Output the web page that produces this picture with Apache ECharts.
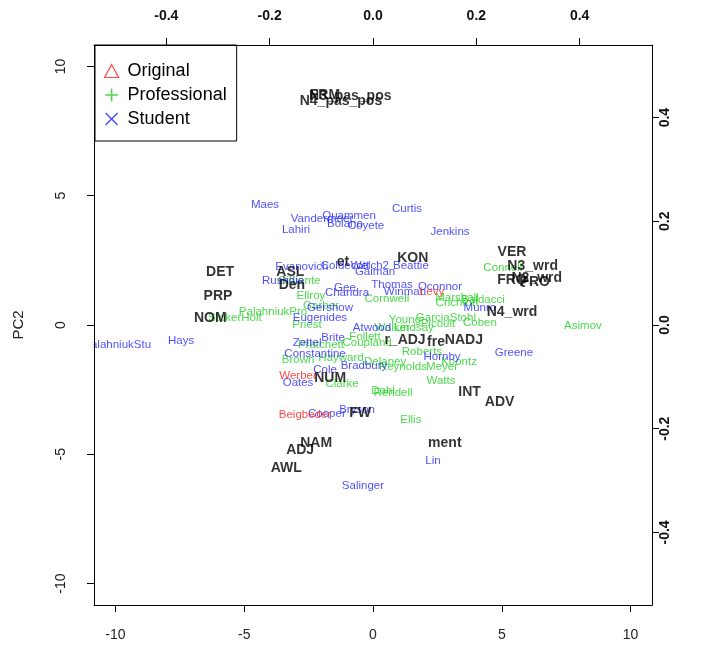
<!DOCTYPE html>
<html><head><meta charset="utf-8">
<script src="https://cdn.jsdelivr.net/npm/echarts@6/dist/echarts.min.js"></script>
<style>html,body{margin:0;padding:0;background:#fff}#c{width:702px;height:650px}</style>
</head><body><div id="c"></div>
<script>
// Observation scores (PC1, PC2) – bottom/left axes
const studentNames = ["Maes","Lahiri","Vandermeer","Quammen","Bolano","Coyete","Curtis","Jenkins","Evanovich","Coldecott","Welch2","Beattie","Gaiman","Rushdie","Gee","Thomas","Chandra","Winman","Oconnor","Munro","Gershow","Eugenides","Zettel","Constantine","Brite","Atwood","Bradbury","Cole","Oates","Cooper","Bryson","Hornby","Greene","Lin","Salinger","Hays","PalahniukStu"];
const studentPC1 = [-4.19,-2.99,-1.98,-0.93,-1.09,-0.27,1.32,2.99,-2.76,-1.09,-0.12,1.47,0.08,-3.49,-1.09,0.74,-1.01,1.24,2.60,4.15,-1.67,-2.06,-2.56,-2.25,-1.55,-0.04,-0.35,-1.86,-2.91,-1.79,-0.62,2.68,5.47,2.33,-0.39,-7.45,-9.93];
const studentPC2 = [4.64,3.67,4.10,4.22,3.91,3.83,4.49,3.60,2.24,2.28,2.28,2.28,2.05,1.70,1.43,1.55,1.24,1.28,1.47,0.66,0.66,0.27,-0.70,-1.12,-0.50,-0.12,-1.59,-1.74,-2.24,-3.44,-3.29,-1.24,-1.08,-5.26,-6.23,-0.62,-0.77];

const originalNames = ["Levy","Werber","Beigbeder"];
const originalPC1 = [2.29,-2.91,-2.64];
const originalPC2 = [1.28,-1.97,-3.48];

const professionalNames = ["Connell","Marshall","Crichton","Baldacci","Cornwell","Ellroy","PalahniukPro","StokerHolt","Priest","GarciaStohl","Coben","Asimov","Young","Picoult","Lindsay","Walker","Follett","Pratchett","Coupland","Brown","Hayward","Delaney","Reynolds","Roberts","Meyer","Koontz","Watts","Clarke","Dahl","Rendell","Ellis","Cifuente","Garber"];
const professionalPC1 = [5.04,3.26,3.26,4.27,0.54,-2.41,-3.88,-5.36,-2.56,2.83,4.15,8.15,1.24,2.52,1.59,0.74,-0.31,-2.02,-0.23,-2.91,-1.24,0.47,1.16,1.90,2.68,3.34,2.64,-1.20,0.39,0.78,1.47,-2.87,-2.02];
const professionalPC2 = [2.20,1.04,0.85,0.97,1.01,1.12,0.50,0.27,0.00,0.27,0.08,-0.04,0.19,0.04,-0.12,-0.12,-0.46,-0.77,-0.70,-1.35,-1.28,-1.43,-1.62,-1.04,-1.62,-1.43,-2.17,-2.28,-2.55,-2.63,-3.68,1.70,0.74];

// Variable loadings – top/right axes
const varNames = ["FRM","N3_pas_pos","N4_pas_pos","DET","PRP","NOM","ASL","Den","et","KON","VER","N3_wrd","FRQ","N2_wrd","PRO","N4_wrd","r_ADJ","fre","NADJ","NUM","FW","INT","ADV","NAM","ADJ","AWL","ment"];
const varX = [-0.093,-0.044,-0.062,-0.296,-0.300,-0.315,-0.160,-0.157,-0.058,0.077,0.269,0.309,0.269,0.317,0.313,0.269,0.062,0.122,0.176,-0.083,-0.025,0.187,0.245,-0.110,-0.141,-0.168,0.139];
const varY = [0.443,0.441,0.431,0.102,0.056,0.014,0.102,0.077,0.122,0.129,0.141,0.114,0.087,0.091,0.083,0.025,-0.029,-0.033,-0.029,-0.102,-0.170,-0.129,-0.149,-0.228,-0.242,-0.276,-0.228];

const pcTicks = [-10,-5,0,5,10];
const loadTicks = [-0.4,-0.2,0.0,0.2,0.4];

const FONT = "'Liberation Sans', Arial, sans-serif";
const BLUE = "#1f1fff", GREEN = "#1ecf1e", RED = "#ff1a1a";

function pts(n, xs, ys){ return n.map((s,i)=>({name:s, value:[xs[i], ys[i]]})); }
function labelSeries(name, data, color, xi, yi, size, bold){
  return {name, type:'scatter', xAxisIndex:xi, yAxisIndex:yi, data, symbolSize:0, silent:true,
    itemStyle:{color}, label:{show:true, position:'inside', formatter:'{b}', color: bold?'#000':color,
    fontFamily:FONT, fontSize:size, fontWeight: bold?'bold':'normal'}, z: bold?5:3};
}

const chart = echarts.init(document.getElementById('c'), null, {renderer:'canvas'});
const axLine = {show:true, onZero:false, lineStyle:{color:'#000', width:1}};
const tick = (vals)=>({show:true, length:7, inside:false, customValues:vals, lineStyle:{color:'#000'}});
const GL = 94, GR = 50, GT = 45, GB = 45;
chart.setOption({
  animation:false,
  grid:{left:GL, right:GR, top:GT, bottom:GB, show:false},
  legend:{orient:'vertical', left:95, top:45, z:20, data:[
      {name:'Original', icon:'triangle', itemStyle:{color:'rgba(0,0,0,0)', borderColor:RED, borderWidth:1.2}},
      {name:'Professional', icon:'path://M4.4,0 L5.6,0 L5.6,4.4 L10,4.4 L10,5.6 L5.6,5.6 L5.6,10 L4.4,10 L4.4,5.6 L0,5.6 L0,4.4 L4.4,4.4 Z', itemStyle:{color:GREEN}},
      {name:'Student', icon:'path://M0.8,0 L5,4.2 L9.2,0 L10,0.8 L5.8,5 L10,9.2 L9.2,10 L5,5.8 L0.8,10 L0,9.2 L4.2,5 L0,0.8 Z', itemStyle:{color:BLUE}}],
    itemWidth:14, itemHeight:13, itemGap:6, padding:[17,10,13,9], borderColor:'#000', borderWidth:1, backgroundColor:'#fff',
    textStyle:{fontFamily:FONT, fontSize:18, color:'#000', padding:[0,0,0,4]}, selectedMode:false},
  graphic:[{type:'rect', z:15, silent:true, shape:{x:0, y:0, width:GL-0.5, height:650}, style:{fill:'#fff'}}],
  xAxis:[
    {type:'value', position:'bottom', z:30, min:-10.83, max:10.83, axisLine:axLine, splitLine:{show:false},
     axisTick:tick(pcTicks), axisLabel:{customValues:pcTicks, margin:23, fontFamily:FONT, fontSize:14, color:'#222'}},
    {type:'value', position:'top', z:30, min:-0.54, max:0.54, axisLine:axLine, splitLine:{show:false},
     axisTick:tick(loadTicks), axisLabel:{customValues:loadTicks, margin:22, fontFamily:FONT, fontSize:14, fontWeight:'bold', color:'#111',
       formatter:v=>v.toFixed(1)}}
  ],
  yAxis:[
    {type:'value', position:'left', z:30, min:-10.83, max:10.83, axisLine:axLine, splitLine:{show:false},
     axisTick:tick(pcTicks), axisLabel:{customValues:pcTicks, rotate:90, margin:26, fontFamily:FONT, fontSize:14, color:'#222'},
     name:'PC2', nameLocation:'middle', nameGap:68, nameRotate:90, nameTextStyle:{fontFamily:FONT, fontSize:15, color:'#222'}},
    {type:'value', position:'right', z:30, min:-0.54, max:0.54, axisLine:axLine, splitLine:{show:false},
     axisTick:tick(loadTicks), axisLabel:{customValues:loadTicks, rotate:90, margin:6, fontFamily:FONT, fontSize:14, fontWeight:'bold', color:'#111',
       formatter:v=>v.toFixed(1)}}
  ],
  series:[
    labelSeries('Professional', pts(professionalNames, professionalPC1, professionalPC2), GREEN, 0, 0, 11.5, false),
    labelSeries('Student', pts(studentNames, studentPC1, studentPC2), BLUE, 0, 0, 11.5, false),
    labelSeries('Original', pts(originalNames, originalPC1, originalPC2), RED, 0, 0, 11.5, false),
    labelSeries('Variables', pts(varNames, varX, varY), '#000', 1, 1, 14, true)
  ]
});
</script></body></html>
